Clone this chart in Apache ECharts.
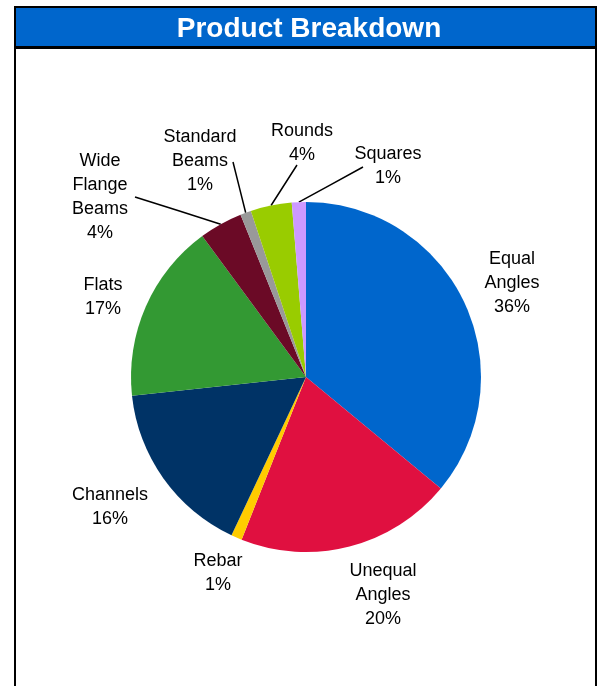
<!DOCTYPE html>
<html>
<head>
<meta charset="utf-8">
<script src="https://cdn.jsdelivr.net/npm/echarts@6/dist/echarts.min.js"></script>
<style>
html,body{margin:0;padding:0;background:#fff;}
#chart{width:601px;height:686px;}
</style>
</head>
<body>
<div id="chart"></div>
<script>
// Data
var titleText = 'Product Breakdown';
var categories = ['Equal\nAngles', 'Unequal\nAngles', 'Rebar', 'Channels', 'Flats', 'Wide\nFlange\nBeams', 'Standard\nBeams', 'Rounds', 'Squares'];
var values = [36, 20, 1, 16.3, 16.6, 4, 1, 3.8, 1.3];
var colors = ['#0066CC', '#E01040', '#FFCC00', '#003366', '#339933', '#6B0A26', '#999999', '#99CC00', '#CC99FF'];
var showLeader = [false, false, false, false, false, true, true, true, true];
// label block centres and leader-line label ends (layout, not data)
var labelPos = [[512, 283], [383, 595], [218, 573], [110, 507], [103, 297], [100, 197], [200, 161], [302, 143], [388, 166]];
var leaderEnd = [null, null, null, null, null, [135, 197], [233, 162], [297, 165], [363, 167]];

var chart = echarts.init(document.getElementById('chart'), null, {renderer: 'canvas'});
var font = '"Liberation Sans", Arial, sans-serif';

var data = categories.map(function (c, i) {
  return {
    name: c,
    value: values[i],
    itemStyle: {color: colors[i]},
    labelLine: {show: showLeader[i]}
  };
});

chart.setOption({
  animation: false,
  backgroundColor: '#ffffff',
  graphic: [
    {type: 'rect', z: -10, shape: {x: 14, y: 6, width: 583, height: 43}, style: {fill: '#000'}},
    {type: 'rect', z: -9, shape: {x: 16, y: 8, width: 579, height: 38}, style: {fill: '#0066CC'}},
    {type: 'rect', z: -9, shape: {x: 14, y: 48, width: 2, height: 700}, style: {fill: '#000'}},
    {type: 'rect', z: -9, shape: {x: 595, y: 48, width: 2, height: 700}, style: {fill: '#000'}},
    {type: 'text', z: 10, x: 309, y: 29, style: {text: titleText, fill: '#ffffff', font: 'bold 28px "Liberation Sans", Arial, sans-serif', textAlign: 'center', textVerticalAlign: 'middle'}}
  ],
  series: [{
    type: 'pie',
    center: [306, 377],
    radius: [0, 175],
    startAngle: 90,
    clockwise: true,
    avoidLabelOverlap: false,
    data: data,
    itemStyle: {borderWidth: 0},
    label: {
      show: true,
      position: 'outside',
      formatter: function (p) { return p.name + '\n' + Math.round(p.percent) + '%'; },
      fontFamily: font,
      fontSize: 18,
      lineHeight: 24,
      color: '#000',
      align: 'center'
    },
    labelLine: {
      show: true,
      lineStyle: {color: '#000', width: 1.5},
      length: 10,
      length2: 10
    },
    labelLayout: function (params) {
      var i = params.dataIndex;
      var res = {x: labelPos[i][0], y: labelPos[i][1], align: 'center', verticalAlign: 'middle'};
      if (leaderEnd[i] && params.labelLinePoints) {
        var s = params.labelLinePoints[0];
        var e = leaderEnd[i];
        res.labelLinePoints = [s, [(s[0] + e[0]) / 2, (s[1] + e[1]) / 2], e];
      }
      return res;
    },
    emphasis: {disabled: true}
  }]
});
</script>
</body>
</html>
